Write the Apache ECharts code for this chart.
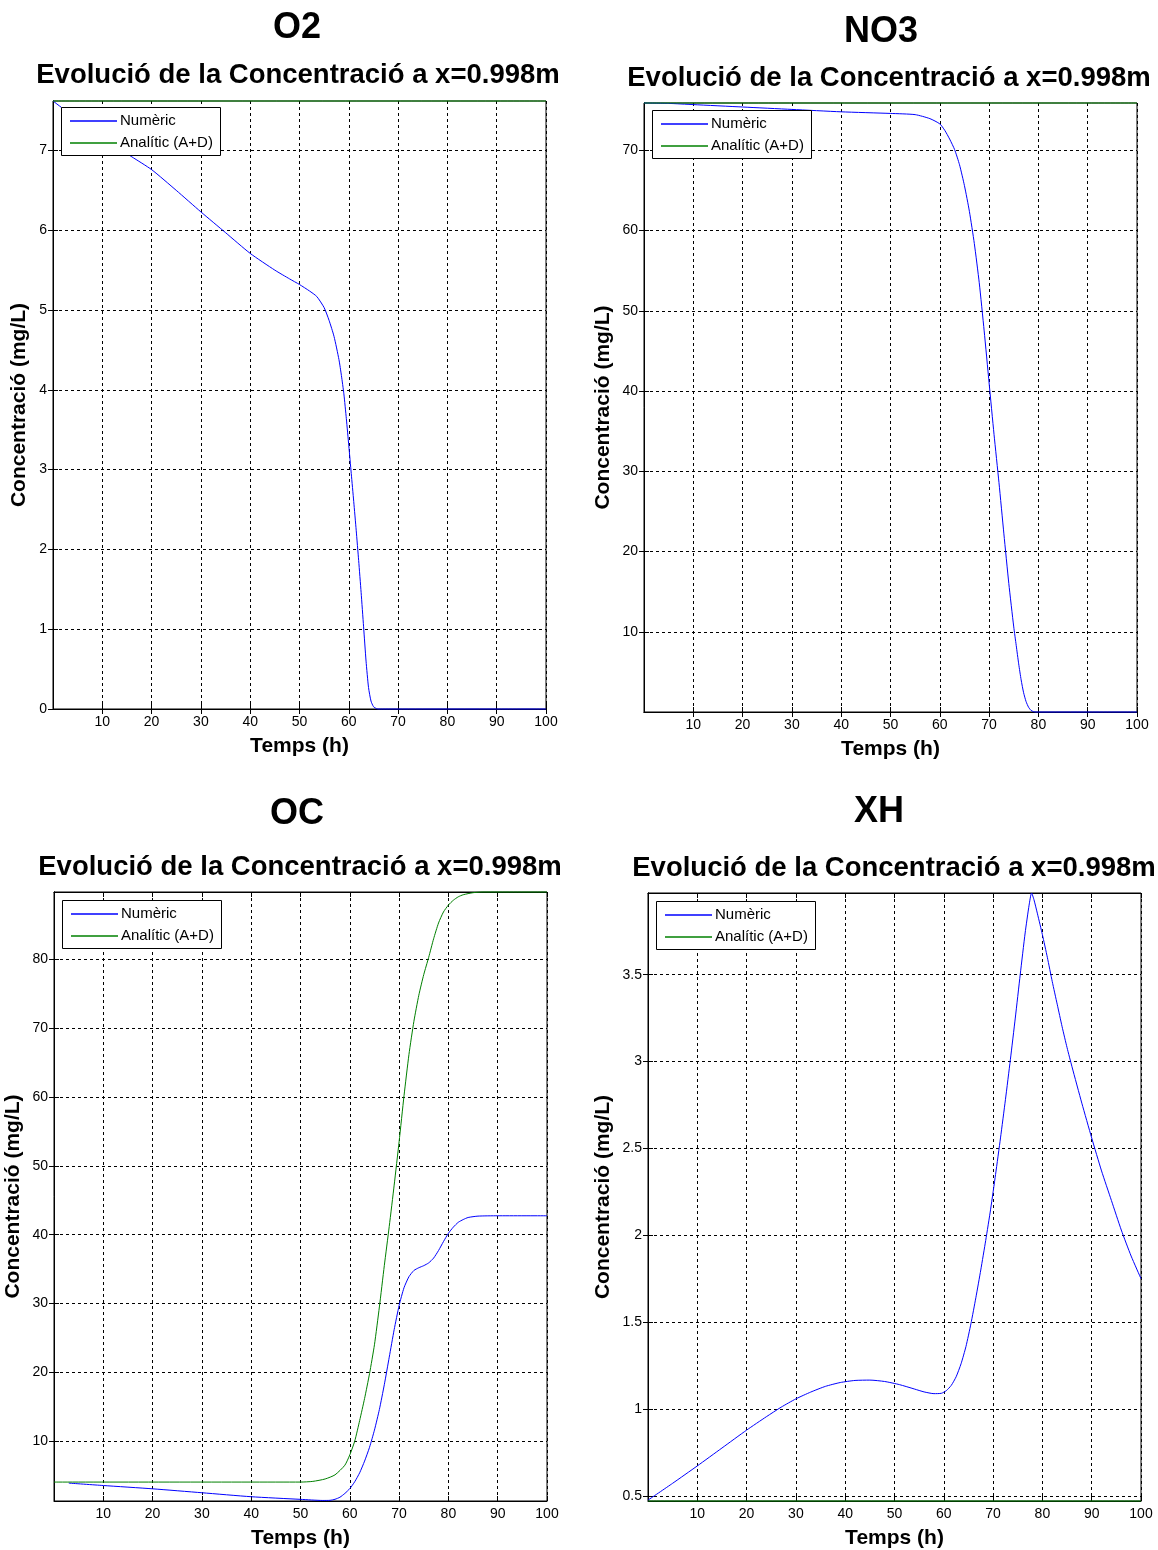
<!DOCTYPE html>
<html>
<head>
<meta charset="UTF-8">
<script src="https://cdn.jsdelivr.net/npm/echarts@6/dist/echarts.min.js"></script>
<style>
  body { margin: 0; background: #fff; }
  #main { width: 1158px; height: 1550px; }
</style>
</head>
<body>
<div id="main"></div>
<script>
// ---- data ----
var xTicks = [10, 20, 30, 40, 50, 60, 70, 80, 90, 100];
var seriesNames = ['Numèric', 'Analític (A+D)'];

// O2
var o2T   = [0, 3, 8, 12, 16, 20, 25, 30, 35, 40, 45, 48, 50, 52, 53.5, 55, 56, 57, 58, 58.5, 59, 59.5, 60, 60.5, 61, 61.5, 62, 62.5, 63, 63.5, 64, 64.5, 65, 65.6, 66, 70, 80, 90, 100];
var o2Num = [7.62, 7.48, 7.27, 7.08, 6.92, 6.76, 6.5, 6.23, 5.97, 5.71, 5.5, 5.39, 5.32, 5.24, 5.17, 5.03, 4.87, 4.67, 4.38, 4.18, 3.95, 3.64, 3.3, 2.95, 2.6, 2.24, 1.86, 1.46, 1.03, 0.6, 0.27, 0.1, 0.03, 0.005, 0, 0, 0, 0, 0];
var o2AnaT = [0, 100];
var o2Ana  = [7.62, 7.62];
var o2YTicks = [0, 1, 2, 3, 4, 5, 6, 7];

// NO3
var no3T   = [0, 5, 10, 20, 30, 40, 50, 55, 58, 60, 61, 62, 63, 64, 65, 66, 67, 68, 69, 70, 71, 72, 73, 74, 75, 75.5, 76, 76.5, 77, 77.5, 78, 78.5, 79, 79.5, 80, 90, 100];
var no3Num = [75.9, 75.85, 75.7, 75.4, 75.1, 74.8, 74.6, 74.45, 73.95, 73.3, 72.5, 71.4, 70.1, 68.2, 65.6, 62.4, 58.4, 53.5, 47.5, 41, 34.6, 28.6, 22.2, 16, 10.6, 8.3, 6.0, 4.0, 2.4, 1.3, 0.6, 0.2, 0.05, 0, 0, 0, 0];
var no3AnaT = [0, 100];
var no3Ana  = [75.9, 75.9];
var no3YTicks = [10, 20, 30, 40, 50, 60, 70];

// OC
var ocNumT = [3, 10, 20, 30, 40, 50, 54.5, 56, 57, 58, 59, 60, 61, 62, 63, 64, 65, 66, 67, 68, 69, 70, 71, 72, 73, 74, 75, 76, 77, 78, 79, 80, 81, 82, 83, 84, 86, 90, 100];
var ocNum  = [3.9, 3.55, 3.07, 2.5, 1.92, 1.54, 1.38, 1.4, 1.55, 1.85, 2.4, 3.1, 4.1, 5.4, 7.1, 9.1, 11.6, 14.6, 18.2, 22.2, 26.2, 29.7, 32.3, 33.9, 34.8, 35.2, 35.5, 35.9, 36.6, 37.7, 39, 40.2, 41.1, 41.8, 42.2, 42.5, 42.7, 42.75, 42.75];
var ocAnaT = [0, 50, 52.5, 55, 57, 59, 60, 61, 62, 63, 64, 65, 66, 67, 68, 69, 70, 71, 72, 73, 74, 75, 76, 77, 78, 79, 80, 81, 82, 83, 85, 87, 90, 100];
var ocAna  = [4.05, 4.05, 4.15, 4.5, 5.1, 6.5, 8.0, 10, 13, 16.2, 19.8, 24, 29.5, 35.5, 41.2, 47.2, 53.5, 60.2, 66.2, 71, 74.8, 77.8, 80.3, 83, 85.3, 86.9, 87.9, 88.6, 89.1, 89.4, 89.7, 89.8, 89.8, 89.8];
var ocYTicks = [10, 20, 30, 40, 50, 60, 70, 80];

// XH
var xhT   = [0, 5, 10, 15, 20, 24, 27, 30, 33, 36, 39, 42, 45, 48, 51, 54, 56, 58, 59.5, 60.5, 61.5, 62.5, 63.5, 64.5, 65.5, 66.5, 67.5, 68.5, 69.5, 70.5, 71.5, 72.5, 73.5, 74.5, 75.5, 76.5, 77.3, 77.8, 78.3, 79, 80, 81, 82, 83, 84, 85, 86, 88, 90, 92, 94, 96, 98, 100];
var xhNum = [0.475, 0.572, 0.672, 0.775, 0.878, 0.955, 1.01, 1.058, 1.097, 1.13, 1.152, 1.164, 1.166, 1.158, 1.14, 1.115, 1.098, 1.088, 1.09, 1.105, 1.135, 1.185, 1.26, 1.36, 1.49, 1.64, 1.8, 1.97, 2.15, 2.35, 2.56, 2.78, 3.01, 3.25, 3.5, 3.74, 3.9, 3.97, 3.93, 3.85, 3.73, 3.6, 3.46, 3.33, 3.2, 3.08, 2.97, 2.76, 2.56, 2.37, 2.2, 2.03, 1.88, 1.75];
var xhAnaT = [0, 100];
var xhAna  = [0.47, 0.47];
var xhYTicks = [0.5, 1, 1.5, 2, 2.5, 3, 3.5];

function pairs(xs, ys) {
  return xs.map(function (x, i) { return [x, ys[i]]; });
}

// ---- layout of the four panels ----
var FONT = "'Liberation Sans', Arial, sans-serif";
var COLORS = ['#0000ff', '#008000'];
var panels = [
  { title: 'O2',  box: [53, 101, 546, 709],   yMin: 0,    yMax: 7.62, yTicks: o2YTicks,
    num: pairs(o2T, o2Num),     ana: pairs(o2AnaT, o2Ana),
    t: [297, 28],  s: [298, 75],  leg: [61, 107],  yGap: 23 },
  { title: 'NO3', box: [644, 103, 1137, 712], yMin: 0,    yMax: 75.9, yTicks: no3YTicks,
    num: pairs(no3T, no3Num),   ana: pairs(no3AnaT, no3Ana),
    t: [881, 32],  s: [889, 78],  leg: [652, 110], yGap: 30 },
  { title: 'OC',  box: [54, 892, 547, 1501],  yMin: 1.3,  yMax: 89.8, yTicks: ocYTicks,
    num: pairs(ocNumT, ocNum),  ana: pairs(ocAnaT, ocAna),
    t: [297, 814], s: [300, 867], leg: [62, 900],  yGap: 30 },
  { title: 'XH',  box: [648, 893, 1141, 1503], yMin: 0.47, yMax: 3.97, yTicks: xhYTicks,
    num: pairs(xhT, xhNum),     ana: pairs(xhAnaT, xhAna),
    t: [879, 812], s: [894, 868], leg: [656, 901], yGap: 34 }
];

var option = {
  animation: false,
  backgroundColor: '#fff',
  textStyle: { fontFamily: FONT },
  grid: [], xAxis: [], yAxis: [], series: [], graphic: []
};

var gridLine = { show: true, lineStyle: { color: '#000', width: 1, type: [3, 3] } };
var tickIn = { show: true, inside: true, length: 5, lineStyle: { color: '#000' } };

// legend box drawn by hand, on its own layer above the plots
function legendBox(x, y) {
  var kids = [{
    type: 'rect', zlevel: 1, z: 10,
    shape: { x: x + 0.5, y: y + 0.5, width: 159, height: 48 },
    style: { fill: '#fff', stroke: '#000', lineWidth: 1 }
  }];
  seriesNames.forEach(function (name, k) {
    var cy = y + 14 + k * 22;
    kids.push({
      type: 'line', zlevel: 1, z: 11,
      shape: { x1: x + 9, y1: cy, x2: x + 56, y2: cy },
      style: { stroke: COLORS[k], lineWidth: 1.6 }
    });
    kids.push({
      type: 'text', zlevel: 1, z: 11, x: x + 59, y: cy,
      style: { text: name, fill: '#000', font: '15px ' + FONT,
               align: 'left', verticalAlign: 'middle', textAlign: 'left', textVerticalAlign: 'middle' }
    });
  });
  return kids;
}

panels.forEach(function (p, i) {
  option.grid.push({
    left: p.box[0], top: p.box[1],
    width: p.box[2] - p.box[0], height: p.box[3] - p.box[1],
    show: true, borderColor: '#000', borderWidth: 1, backgroundColor: '#fff'
  });

  // bottom / top x axes
  option.xAxis.push({
    type: 'value', gridIndex: i, min: 0, max: 100,
    axisLine: { show: true, lineStyle: { color: '#000' } },
    axisTick: Object.assign({ customValues: xTicks }, tickIn),
    axisLabel: { customValues: xTicks, color: '#000', fontSize: 14, margin: 6, fontFamily: FONT },
    splitLine: gridLine,
    name: 'Temps (h)', nameLocation: 'middle', nameGap: 27,
    nameTextStyle: { color: '#000', fontSize: 21, fontWeight: 'bold', fontFamily: FONT }
  });
  option.xAxis.push({
    type: 'value', gridIndex: i, min: 0, max: 100, position: 'top',
    axisLine: { show: true, lineStyle: { color: '#000' } },
    axisTick: Object.assign({ customValues: xTicks }, tickIn),
    axisLabel: { show: false }, splitLine: { show: false }
  });

  // left / right y axes
  option.yAxis.push({
    type: 'value', gridIndex: i, min: p.yMin, max: p.yMax,
    axisLine: { show: true, lineStyle: { color: '#000' } },
    axisTick: Object.assign({ customValues: p.yTicks }, tickIn),
    axisLabel: { customValues: p.yTicks, color: '#000', fontSize: 14, margin: 6, fontFamily: FONT },
    splitLine: gridLine,
    name: 'Concentració (mg/L)', nameLocation: 'middle', nameGap: p.yGap,
    nameTextStyle: { color: '#000', fontSize: 21, fontWeight: 'bold', fontFamily: FONT }
  });
  option.yAxis.push({
    type: 'value', gridIndex: i, min: p.yMin, max: p.yMax, position: 'right',
    axisLine: { show: true, lineStyle: { color: '#000' } },
    axisTick: Object.assign({ customValues: p.yTicks }, tickIn),
    axisLabel: { show: false }, splitLine: { show: false }
  });

  [p.num, p.ana].forEach(function (d, k) {
    option.series.push({
      name: seriesNames[k], type: 'line', xAxisIndex: 2 * i, yAxisIndex: 2 * i,
      data: d, symbol: 'none', smooth: 0.2, clip: false,
      lineStyle: { color: COLORS[k], width: 1 }, itemStyle: { color: COLORS[k] }
    });
  });

  option.graphic = option.graphic.concat(legendBox(p.leg[0], p.leg[1]));
  option.graphic.push({
    type: 'text', x: p.t[0], y: p.t[1],
    style: { text: p.title, fill: '#000', font: 'bold 36px ' + FONT,
             align: 'center', verticalAlign: 'middle', textAlign: 'center', textVerticalAlign: 'middle' }
  });
  option.graphic.push({
    type: 'text', x: p.s[0], y: p.s[1],
    style: { text: 'Evolució de la Concentració a x=0.998m', fill: '#000', font: 'bold 27.5px ' + FONT,
             align: 'center', verticalAlign: 'middle', textAlign: 'center', textVerticalAlign: 'middle' }
  });
});

window.onload = function () {
  var chart = echarts.init(document.getElementById('main'), null, { renderer: 'canvas' });
  chart.setOption(option);
};
</script>
</body>
</html>
